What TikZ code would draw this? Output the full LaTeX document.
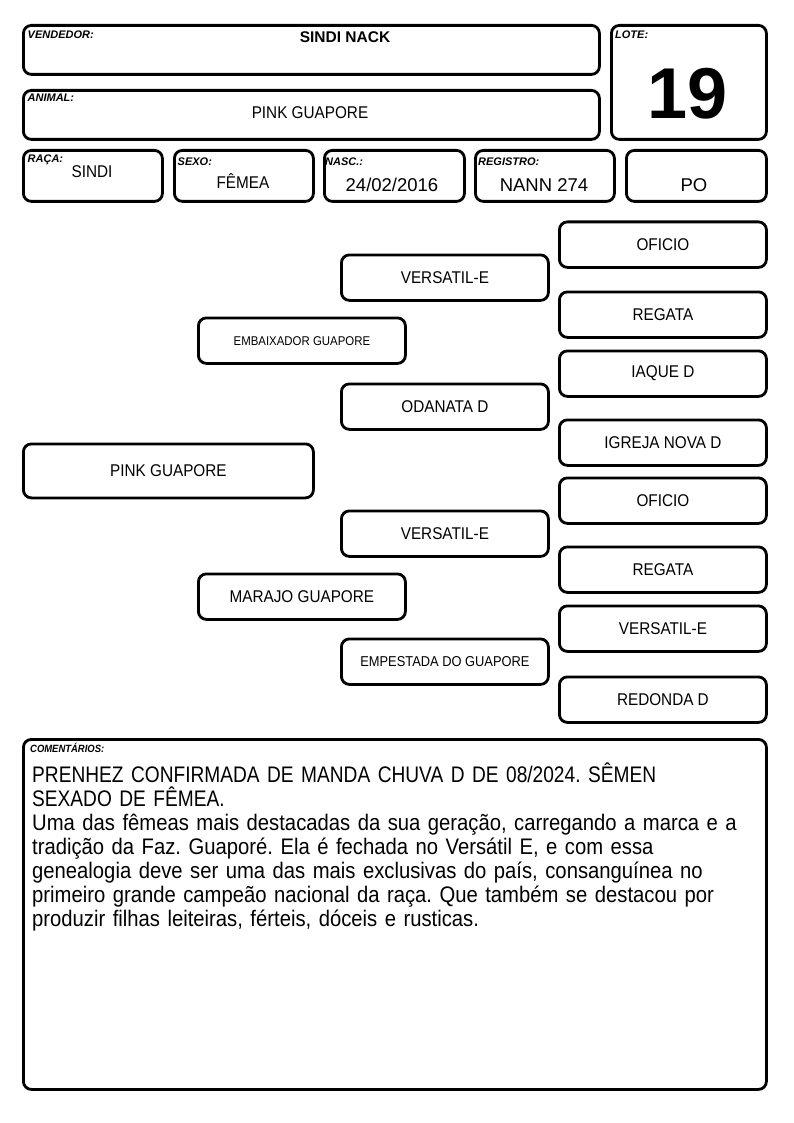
\documentclass[tikz,border=0pt]{standalone}
\usepackage{fontspec}
\setmainfont{Liberation Sans}
\newfontfamily\narrowfont{Liberation Sans}[FakeStretch=0.9]
\newfontfamily\capsfont{Liberation Sans}[FakeStretch=0.85]
\usetikzlibrary{positioning}
\tikzset{
  box/.style={draw, rounded corners=8pt, line width=2.8pt, anchor=north west, inner sep=0pt},
  ped/.style={box, minimum width=207pt, minimum height=45.5pt, font=\narrowfont\fontsize{17}{17}\selectfont},
  lbl/.style={anchor=base west, inner sep=0pt, font=\bfseries\itshape\fontsize{11}{11}\selectfont},
  val/.style={anchor=base, inner sep=0pt, font=\narrowfont\fontsize{17}{17}\selectfont},
  num/.style={anchor=base, inner sep=0pt, font=\fontsize{18.5}{18.5}\selectfont},
}

\begin{document}
\begin{tikzpicture}[x=1pt, y=-1pt]
  \useasboundingbox (0,0) rectangle (794,1123);

  % header
  \node[box, minimum width=576pt, minimum height=49pt]  (vend)   at (22,24)  {};
  \node[box, minimum width=576pt, minimum height=49pt]  (animal) at (22,89)  {};
  \node[box, minimum width=155pt, minimum height=114pt] (lote)   at (610,24) {};
  \node[box, minimum width=139pt, minimum height=51pt]  (raca)   at (22,149)  {};
  \node[box, minimum width=139pt, minimum height=51pt]  (sexo)   at (173,149) {};
  \node[box, minimum width=140pt, minimum height=51pt]  (nasc)   at (323,149) {};
  \node[box, minimum width=139pt, minimum height=51pt]  (reg)    at (474,149) {};
  \node[box, minimum width=140pt, minimum height=51pt]  (po)     at (625,149) {};

  \node[lbl] (vendlbl)   at (27.5,39)  {VENDEDOR:};
  \node[lbl] (animallbl) at (27.5,102) {ANIMAL:};
  \node[lbl] (lotelbl)   at (615,39)   {LOTE:};
  \node[lbl] (racalbl)   at (27.5,163) {RAÇA:};
  \node[lbl] (sexolbl)   at (177.5,165.5) {SEXO:};
  \node[lbl] (nasclbl)   at (325,165.5) {NASC.:};
  \node[lbl] (reglbl)    at (478,165.5) {REGISTRO:};

  \node[anchor=base, inner sep=0pt, font=\bfseries\fontsize{15.5}{15.5}\selectfont] (vendval) at (345,42.5) {SINDI NACK};
  \node[val] (animalval) at (310,119) {PINK GUAPORE};
  \node[anchor=base, inner sep=0pt, font=\bfseries\fontsize{72}{72}\selectfont] (loteval) at (687.5,118.5) {19};
  \node[val] (racaval) at (92,178)  {SINDI};
  \node[val] (sexoval) at (243,189) {FÊMEA};
  \node[num] (nascval) at (392,192) {24/02/2016};
  \node[num] (regval)  at (544,192) {NANN 274};
  \node[num] (poval)   at (694,192) {PO};

  % pedigree
  \node[box, minimum width=290pt, minimum height=54pt, font=\narrowfont\fontsize{17}{17}\selectfont] (pink) at (22,442.5) {PINK GUAPORE};

  \node[ped, font=\narrowfont\fontsize{12.7}{12.7}\selectfont] (pai) at (197,316.5) {EMBAIXADOR GUAPORE};
  \node[ped] (mae) at (197,572.5) {MARAJO GUAPORE};

  \node[ped] (avop)  at (340,253.5) {VERSATIL-E};
  \node[ped] (avap)  at (340,382.5) {ODANATA D};
  \node[ped] (avom)  at (340,509.5) {VERSATIL-E};
  \node[ped, font=\narrowfont\fontsize{14.3}{14.3}\selectfont] (avam) at (340,637.5) {EMPESTADA DO GUAPORE};

  \node[ped] (bis1) at (558,220.5) {OFICIO};
  \node[ped] (bis2) at (558,290.5) {REGATA};
  \node[ped] (bis3) at (558,349.5) {IAQUE D};
  \node[ped] (bis4) at (558,418.5) {IGREJA NOVA D};
  \node[ped] (bis5) at (558,476.5) {OFICIO};
  \node[ped] (bis6) at (558,545.5) {REGATA};
  \node[ped] (bis7) at (558,604.5) {VERSATIL-E};
  \node[ped] (bis8) at (558,675.5) {REDONDA D};

  % comentarios
  \node[box, minimum width=743pt, minimum height=350pt] (coment) at (22,738) {};
  \node[lbl, font=\narrowfont\bfseries\itshape\fontsize{10.5}{10.5}\selectfont] (comentlbl) at (30,752) {COMENTÁRIOS:};
  \node[anchor=base west, inner sep=0pt, text width=740pt, align=left,
        font=\narrowfont\fontsize{22.5}{24}\selectfont\frenchspacing] (comenttxt) at (32,782)
    {{\capsfont PRENHEZ CONFIRMADA DE MANDA CHUVA D DE 08/2024. SÊMEN}\\
     {\capsfont SEXADO DE FÊMEA.}\\
     Uma das fêmeas mais destacadas da sua geração, carregando a marca e a\\
     tradição da Faz. Guaporé. Ela é fechada no Versátil E, e com essa\\
     genealogia deve ser uma das mais exclusivas do país, consanguínea no\\
     primeiro grande campeão nacional da raça. Que também se destacou por\\
     produzir filhas leiteiras, férteis, dóceis e rusticas.};
\end{tikzpicture}
\end{document}
